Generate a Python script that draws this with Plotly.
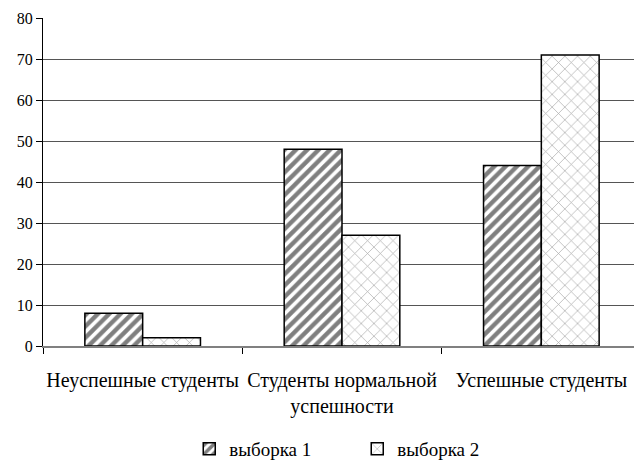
import plotly.graph_objects as go

categories = ["Неуспешные студенты", "Студенты нормальной<br>успешности", "Успешные студенты"]
series1_name = "выборка 1"
series2_name = "выборка 2"
series1 = [8, 48, 44]
series2 = [2, 27, 71]
y_ticks = [0, 10, 20, 30, 40, 50, 60, 70, 80]

FAM = "Liberation Serif"
tick_font = dict(family=FAM, size=16, color="black")
cat_font = dict(family=FAM, size=20, color="black")

fig = go.Figure()
fig.add_trace(go.Bar(
    x=categories, y=series1, name=series1_name,
    marker=dict(color="white", line=dict(color="black", width=1.5),
                pattern=dict(shape="/", fgcolor="black", bgcolor="white", size=8, solidity=0.55)),
))
fig.add_trace(go.Bar(
    x=categories, y=series2, name=series2_name,
    marker=dict(color="white", line=dict(color="black", width=1.5),
                pattern=dict(shape="x", fgcolor="#555555", bgcolor="white", size=9, solidity=0.15)),
))

fig.update_layout(
    width=642, height=463,
    margin=dict(l=35, r=9, t=10, b=125, autoexpand=False),
    paper_bgcolor="white", plot_bgcolor="white",
    font=dict(family=FAM, size=16, color="black"),
    barmode="group", bargap=0.42, bargroupgap=0,
    showlegend=True,
    legend=dict(orientation="h", x=157 / 642, xanchor="left",
                yref="container", y=1 - 441 / 463, yanchor="middle",
                font=dict(family=FAM, size=19, color="black"),
                itemwidth=30, entrywidth=123, entrywidthmode="pixels",
                bgcolor="rgba(0,0,0,0)"),
    xaxis=dict(showline=True, linecolor="#808080", linewidth=1.5,
               ticks="outside", tickson="boundaries", ticklen=6, tickcolor="black",
               showgrid=False, tickfont=cat_font, automargin=False,
               tickangle=0, ticklabelstandoff=15),
    yaxis=dict(range=[0, 80], tickvals=y_ticks, showline=True, linecolor="black",
               linewidth=1, ticks="outside", ticklen=6, tickcolor="black",
               showgrid=True, gridcolor="#555555", gridwidth=1, zeroline=False,
               tickfont=tick_font, automargin=False),
)

fig.write_html("out.html")
